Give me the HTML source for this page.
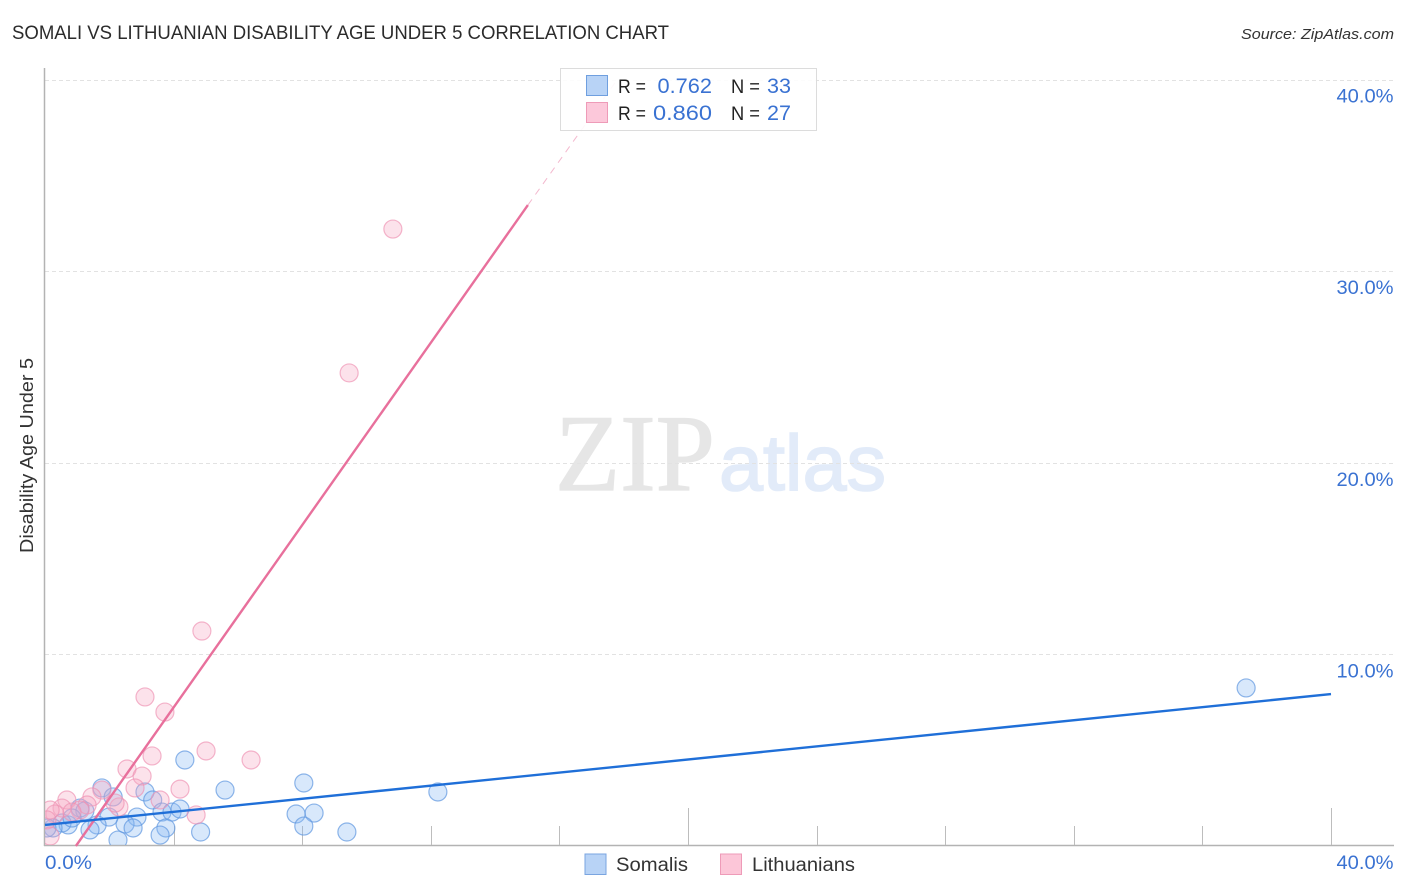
<!DOCTYPE html>
<html>
<head>
<meta charset="utf-8">
<title>Somali vs Lithuanian Disability Age Under 5 Correlation Chart</title>
<style>
html,body{margin:0;padding:0;background:#fff;width:1406px;height:892px;overflow:hidden}
svg{display:block;font-family:"Liberation Sans",sans-serif}
</style>
</head>
<body>
<svg id="chart" width="1406" height="892" viewBox="0 0 1406 892" xmlns="http://www.w3.org/2000/svg">
  <defs>
    <clipPath id="plot-clip"><rect x="45" y="68" width="1348" height="777"/></clipPath>
  </defs>
  <text x="12" y="39" font-size="19" fill="#2b2b2b" textLength="657" lengthAdjust="spacingAndGlyphs">SOMALI VS LITHUANIAN DISABILITY AGE UNDER 5 CORRELATION CHART</text>
  <text x="1241" y="39" font-size="15" font-style="italic" fill="#333" textLength="153" lengthAdjust="spacingAndGlyphs">Source: ZipAtlas.com</text>
  <g>
    <text x="555" y="490" font-family="'Liberation Serif',serif" font-size="109" fill="#e6e6e6" stroke="#e6e6e6" stroke-width="1.2" textLength="160" lengthAdjust="spacingAndGlyphs">ZIP</text>
    <text x="719" y="490" font-size="79" fill="#e2ebf9" stroke="#e2ebf9" stroke-width="1.6" textLength="167" lengthAdjust="spacingAndGlyphs">atlas</text>
  </g>
  <g id="grid"></g>
  <g id="axes"></g>
  <g id="points" clip-path="url(#plot-clip)"></g>
  <g id="trends"></g>
  <g id="labels"></g>
  <text transform="translate(33,455.5) rotate(-90)" text-anchor="middle" font-size="18" fill="#333" textLength="195" lengthAdjust="spacingAndGlyphs">Disability Age Under 5</text>

  <g>
    <rect x="560.5" y="68.5" width="256" height="62" fill="#fff" fill-opacity="0.9" stroke="#dcdcdc" stroke-width="1"/>
    <rect x="586.5" y="75.5" width="21" height="20" fill="#b8d3f6" stroke="#6f9fdf" stroke-width="1"/>
    <rect x="586.5" y="102.5" width="21" height="20" fill="#fcc8da" stroke="#ee9bb8" stroke-width="1"/>
    <text x="618" y="93" font-size="19" fill="#222" textLength="28" lengthAdjust="spacingAndGlyphs">R =</text>
    <text x="657.5" y="93" font-size="21" fill="#3a72d2" textLength="54.5" lengthAdjust="spacingAndGlyphs">0.762</text>
    <text x="731" y="93" font-size="19" fill="#222" textLength="29" lengthAdjust="spacingAndGlyphs">N =</text>
    <text x="767" y="93" font-size="21" fill="#3a72d2" textLength="24" lengthAdjust="spacingAndGlyphs">33</text>
    <text x="618" y="120" font-size="19" fill="#222" textLength="28" lengthAdjust="spacingAndGlyphs">R =</text>
    <text x="653" y="120" font-size="21" fill="#3a72d2" textLength="59" lengthAdjust="spacingAndGlyphs">0.860</text>
    <text x="731" y="120" font-size="19" fill="#222" textLength="29" lengthAdjust="spacingAndGlyphs">N =</text>
    <text x="767" y="120" font-size="21" fill="#3a72d2" textLength="24" lengthAdjust="spacingAndGlyphs">27</text>
  </g>

  <g>
    <rect x="585" y="854" width="21" height="20.5" fill="#b8d3f6" stroke="#7aa5e0" stroke-width="1"/>
    <text x="616" y="871" font-size="19" fill="#333" textLength="72" lengthAdjust="spacingAndGlyphs">Somalis</text>
    <rect x="720.5" y="854" width="21" height="20.5" fill="#fcc6d8" stroke="#ee9bb8" stroke-width="1"/>
    <text x="752" y="871" font-size="19" fill="#333" textLength="103" lengthAdjust="spacingAndGlyphs">Lithuanians</text>
  </g>
</svg>
<script>
const somaliX = [4.35,5.60,8.05,3.11,3.35,1.77,2.12,1.09,1.24,3.64,3.95,4.20,7.81,8.37,8.05,4.84,3.76,3.58,2.27,2.86,2.49,2.74,1.99,1.62,1.40,0.72,0.53,0.25,0.06,0.84,37.36,12.22,9.39];
const somaliY = [4.49,2.92,3.29,2.82,2.40,3.03,2.56,1.98,1.83,1.77,1.77,1.93,1.67,1.72,1.04,0.73,0.94,0.57,0.31,1.51,1.15,0.94,1.51,1.10,0.84,1.10,1.20,0.94,0.94,1.46,8.25,2.82,0.73];
const lithuanianX = [10.82,9.46,4.88,3.11,3.73,3.33,5.01,6.41,2.55,3.02,2.80,4.20,3.58,4.70,2.30,2.18,1.77,1.46,0.68,1.31,1.09,0.53,0.31,0.16,0.06,0.16,0.84];
const lithuanianY = [32.20,24.69,11.22,7.78,6.99,4.70,4.96,4.49,4.02,3.65,3.03,2.97,2.40,1.62,2.04,2.24,2.92,2.56,2.40,2.14,1.88,1.98,1.67,1.88,1.36,0.52,1.77];
const somaliTrendX = [0,40];
const somaliTrendY = [1.10,7.93];
const lithuanianTrendX = [0.96,15.02];
const lithuanianTrendY = [0,33.45];
const lithuanianDashX = [15.02,17.80];
const lithuanianDashY = [33.45,40];
const xTickValues = [4,8,12,16,20,24,28,32,36,40];
const xMajorTicks = [20,40];
const yTickValues = [10,20,30,40];
const yTickLabels = ["10.0%","20.0%","30.0%","40.0%"];
const xEndLabels = ["0.0%","40.0%"];
const xEndValues = [0,40];

const NS = 'http://www.w3.org/2000/svg';
function xScale(v){ return 45 + v * 32.15; }
function yScale(v){ return 846 - v * 19.16; }
function make(tag, attrs, parent){
  const el = document.createElementNS(NS, tag);
  for (const k in attrs) el.setAttribute(k, attrs[k]);
  parent.appendChild(el);
  return el;
}
const grid = document.getElementById('grid');
const axes = document.getElementById('axes');
const pts = document.getElementById('points');
const trends = document.getElementById('trends');
const labels = document.getElementById('labels');

yTickValues.forEach(function(v, i){
  const y = Math.round(yScale(v)) + 0.5;
  const g = make('line', {x1:45, x2:1393, y1:y, y2:y, stroke:'#e2e2e2', 'stroke-width':1, 'stroke-dasharray':'4 3'}, grid);
  
  
  const t = make('text', {x:1393.5, y:yScale(v)+23, 'text-anchor':'end', 'font-size':19.5, fill:'#3a72d2', textLength:57, lengthAdjust:'spacingAndGlyphs'}, labels);
  
  
  t.textContent = yTickLabels[i];
});

const yAxisLine = make('line', {x1:44.5, x2:44.5, y1:68, y2:846, stroke:'#b3b3b3', 'stroke-width':1.5}, axes);


const xAxisLine = make('line', {x1:44, x2:1394, y1:845.5, y2:845.5, stroke:'#b3b3b3', 'stroke-width':1.5}, axes);



xTickValues.forEach(function(v){
  const major = xMajorTicks.indexOf(v) >= 0;
  const x = Math.round(xScale(v)) + 0.5;
  const tick = make('line', {x1:x, x2:x, y1:major ? 808 : 826, y2:845, stroke:'#bdbdbd', 'stroke-width':1}, axes);
  
  
});

xEndValues.forEach(function(v, i){
  const t = make('text', {x: i === 0 ? 45 : 1393.5, y:869, 'text-anchor': i === 0 ? 'start' : 'end', 'font-size':19.5, fill:'#3a72d2', textLength: i === 0 ? 47 : 57, lengthAdjust:'spacingAndGlyphs'}, labels);
  
  
  t.textContent = xEndLabels[i];
});

somaliX.forEach(function(v, i){
  const c = make('circle', {cx:xScale(v), cy:yScale(somaliY[i]), r:9, fill:'#8ab8f2', 'fill-opacity':0.33, stroke:'#5f97e0', 'stroke-opacity':0.7, 'stroke-width':1.2}, pts);
  
  
});
lithuanianX.forEach(function(v, i){
  const c = make('circle', {cx:xScale(v), cy:yScale(lithuanianY[i]), r:9, fill:'#f7a8c2', 'fill-opacity':0.33, stroke:'#ee8fb0', 'stroke-opacity':0.65, 'stroke-width':1.2}, pts);
  
  
});

const lt = make('line', {x1:xScale(lithuanianTrendX[0]), y1:yScale(lithuanianTrendY[0]), x2:xScale(lithuanianTrendX[1]), y2:yScale(lithuanianTrendY[1]), stroke:'#e8709c', 'stroke-width':2.4}, trends);


const ld = make('line', {x1:xScale(lithuanianDashX[0]), y1:yScale(lithuanianDashY[0]), x2:xScale(lithuanianDashX[1]), y2:yScale(lithuanianDashY[1]), stroke:'#eb89ad', 'stroke-width':1, 'stroke-dasharray':'7 6', 'stroke-opacity':0.6}, trends);


const st = make('line', {x1:xScale(somaliTrendX[0]), y1:yScale(somaliTrendY[0]), x2:xScale(somaliTrendX[1]), y2:yScale(somaliTrendY[1]), stroke:'#1f6fd8', 'stroke-width':2.4}, trends);


</script>
</body>
</html>
